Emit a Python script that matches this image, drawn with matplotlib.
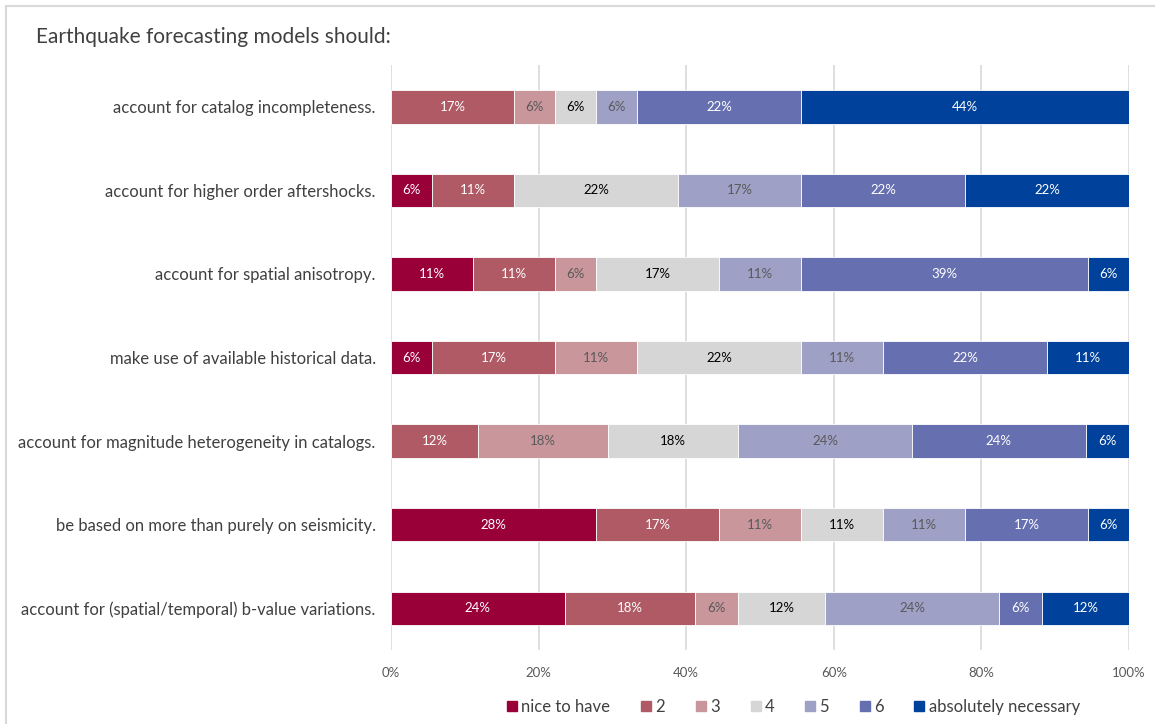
import matplotlib.pyplot as plt
import numpy as np
from matplotlib.lines import Line2D

plt.rcParams['font.family'] = ['Lato', 'DejaVu Sans']

statements = [
    "account for catalog incompleteness.",
    "account for higher order aftershocks.",
    "account for spatial anisotropy.",
    "make use of available historical data.",
    "account for magnitude heterogeneity in catalogs.",
    "be based on more than purely on seismicity.",
    "account for (spatial/temporal) b-value variations.",
]
levels = ["nice to have", "2", "3", "4", "5", "6", "absolutely necessary"]

# number of answers per level (nice to have ... absolutely necessary)
counts = [
    [0, 3, 1, 1, 1, 4, 8],
    [1, 2, 0, 4, 3, 4, 4],
    [2, 2, 1, 3, 2, 7, 1],
    [1, 3, 2, 4, 2, 4, 2],
    [0, 2, 3, 3, 4, 4, 1],
    [5, 3, 2, 2, 2, 3, 1],
    [4, 3, 1, 2, 4, 1, 2],
]

colors = ["#990038", "#B05A66", "#C9969C", "#D6D6D6", "#9EA0C6", "#6670B0", "#00419B"]
label_colors = ["white", "white", "#595959", "black", "#595959", "white", "white"]

counts = np.array(counts, dtype=float)
shares = counts / counts.sum(axis=1, keepdims=True) * 100

fig = plt.figure(figsize=(11.55, 7.24), dpi=100)
ax = fig.add_axes([0.3385, 0.1022, 0.639, 0.808])

y = np.arange(len(statements))
left = np.zeros(len(statements))
for j, lev in enumerate(levels):
    w = shares[:, j]
    ax.barh(y, w, left=left, height=0.4, color=colors[j], edgecolor="white",
            linewidth=0.6, label=lev, zorder=3)
    for i in range(len(statements)):
        if w[i] > 0:
            ax.text(left[i] + w[i] / 2, y[i], f"{w[i]:.0f}%", ha="center", va="center",
                    fontsize=9.5, color=label_colors[j], zorder=4)
    left += w

ax.set_xlim(0, 100)
ax.set_ylim(len(statements) - 0.5, -0.5)
ax.set_yticks(y)
ax.set_yticklabels(statements, fontsize=12, color="#404040")
ax.set_xticks(np.arange(0, 101, 20))
ax.set_xticklabels([f"{v}%" for v in range(0, 101, 20)], fontsize=9.5, color="#595959")
ax.tick_params(axis="both", length=0)
ax.tick_params(axis="x", pad=12)
ax.tick_params(axis="y", pad=11)
ax.grid(axis="x", color="#D9D9D9", linewidth=1.2, zorder=0)
for s in ax.spines.values():
    s.set_visible(False)

fig.text(36 / 1155, 1 - 37 / 724, "Earthquake forecasting models should:",
         fontsize=15, color="#404040", va="center", ha="left")

handles = [Line2D([], [], marker="s", linestyle="none", markersize=7,
                  markerfacecolor=c, markeredgecolor=c) for c in colors]
fig.legend(handles, levels, loc="center", bbox_to_anchor=(794 / 1155, 1 - 707 / 724),
           ncol=7, frameon=False, fontsize=12, handlelength=0.5, handletextpad=0.3,
           columnspacing=1.9, labelcolor="#404040")

# chart frame (top and left edges)
fig.add_artist(Line2D([6 / 1155, 1], [1 - 6 / 724] * 2, color="#D9D9D9", linewidth=1.5))
fig.add_artist(Line2D([6 / 1155] * 2, [0, 1 - 6 / 724], color="#D9D9D9", linewidth=1.5))

fig.savefig("out.png", dpi=100)
